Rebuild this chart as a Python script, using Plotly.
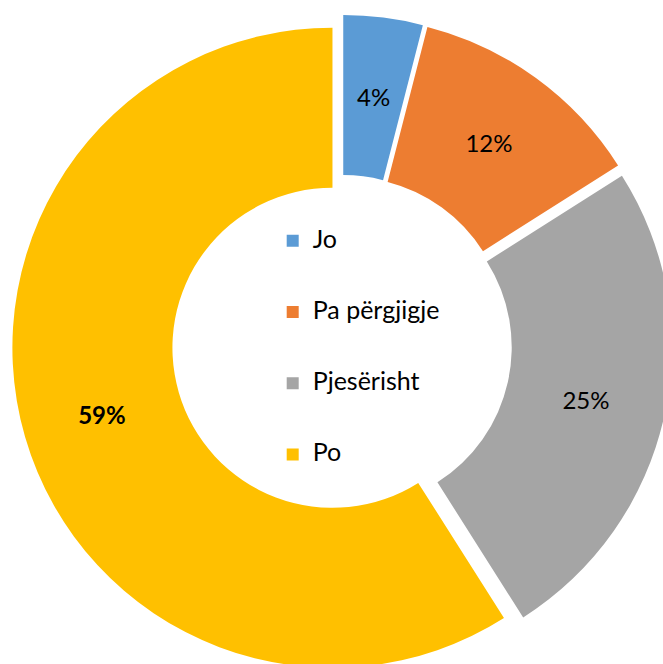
import math
import plotly.graph_objects as go

categories = ["Jo", "Pa përgjigje", "Pjesërisht", "Po"]
values = [4, 12, 25, 59]
colors = ["#5B9BD5", "#ED7D31", "#A5A5A5", "#FFC000"]
templates = ["%{percent:.0%}", "%{percent:.0%}", "%{percent:.0%}", "<b>%{percent:.0%}</b>"]

HOLE = 0.5
PULL = 0.031
FONT = "Lato"
LABEL_SIZE = 24

legend_labels = [" <br><span style='font-size:25px'>%s</span><br> " % c for c in categories]

# the first (narrow) slice gets its label at the slice middle, like the reference
positions = ["none", "inside", "inside", "inside"]

fig = go.Figure(go.Pie(
    labels=legend_labels,
    values=values,
    marker=dict(colors=colors, line=dict(width=0)),
    hole=HOLE,
    pull=PULL,
    sort=False,
    direction="clockwise",
    rotation=0,
    texttemplate=templates,
    textposition=positions,
    insidetextorientation="horizontal",
    textfont=dict(family=FONT, size=LABEL_SIZE, color="black"),
))

W, H = 700, 700
M = dict(l=12, r=28, t=15, b=25)
pw = W - M["l"] - M["r"]
ph = H - M["t"] - M["b"]
R_frac = 1 / (2 * (1 + PULL))  # radius as fraction of plot width

total = sum(values)
mid = values[0] / 2 / total * 2 * math.pi
rr = R_frac * (PULL + (1 + HOLE) / 2)
fig.add_annotation(
    x=0.5 + rr * math.sin(mid), y=0.5 + rr * math.cos(mid) * pw / ph,
    xref="paper", yref="paper", xanchor="center", yanchor="middle",
    showarrow=False,
    text="%d%%" % round(values[0] / total * 100),
    font=dict(family=FONT, size=LABEL_SIZE, color="black"),
)

fig.update_layout(
    width=W, height=H,
    margin=M,
    paper_bgcolor="white",
    plot_bgcolor="white",
    showlegend=True,
    uniformtext=dict(minsize=LABEL_SIZE, mode="show"),
    legend=dict(
        x=0.395, xanchor="left", y=0.496, yanchor="middle",
        font=dict(family=FONT, size=17.5, color="black"),
        bgcolor="rgba(0,0,0,0)",
    ),
)

fig.write_html("out.html", config={"displayModeBar": False},
               post_script="document.body.style.margin='0';document.body.style.overflow='hidden';document.documentElement.style.overflow='hidden';")
